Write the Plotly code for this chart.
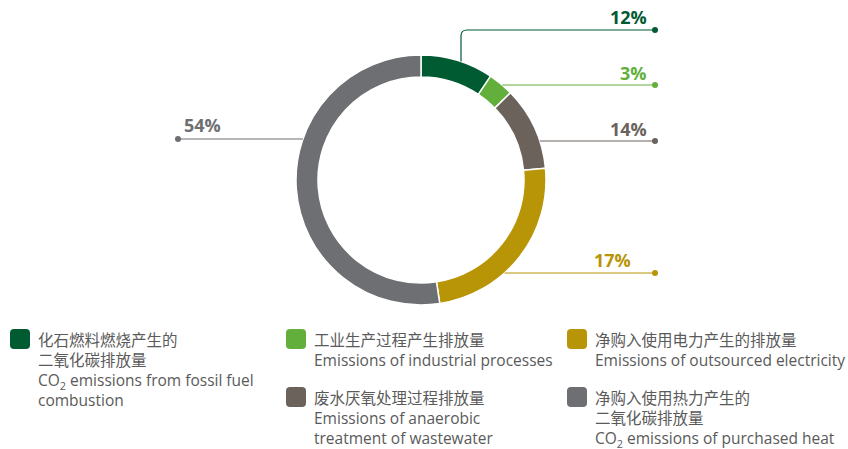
import math
import plotly.graph_objects as go

# ---------------- data ----------------
labels_cn = ["化石燃料燃烧产生的<br>二氧化碳排放量",
             "工业生产过程产生排放量",
             "废水厌氧处理过程排放量",
             "净购入使用电力产生的排放量",
             "净购入使用热力产生的<br>二氧化碳排放量"]
labels_en = ["CO<sub>2</sub> emissions from fossil fuel<br>combustion",
             "Emissions of industrial processes",
             "Emissions of anaerobic<br>treatment of wastewater",
             "Emissions of outsourced electricity",
             "CO<sub>2</sub> emissions of purchased heat"]
# printed percentage labels
pct_text = ["12%", "3%", "14%", "17%", "54%"]
# slice sizes as actually drawn in the picture (angular share, %)
slice_share = [9.4, 3.3, 10.8, 24.1, 52.4]
colors = ["#005A32", "#62AF3C", "#6C625C", "#B89407", "#6E6F73"]

# ---------------- layout constants (pixels) ----------------
W, H = 848, 449
CX, CY, R = 421, 180, 125
HOLE = 0.824
FONT = "Open Sans, Noto Sans CJK SC, sans-serif"
TEXT_COLOR = "#5a5a5a"

fig = go.Figure()

fig.add_trace(go.Pie(
    values=slice_share, labels=[l.replace("<br>", "") for l in labels_cn],
    text=pct_text,
    marker=dict(colors=colors, line=dict(color="white", width=1.5)),
    hole=HOLE, sort=False, direction="clockwise", rotation=0,
    textinfo="none", hoverinfo="label+text", showlegend=False,
    domain=dict(x=[(CX - R) / W, (CX + R) / W], y=[1 - (CY + R) / H, 1 - (CY - R) / H]),
))

shapes = []
annotations = []
dots_x, dots_y, dots_c = [], [], []

def ring_x(y, side):
    dy = y - CY
    return CX + side * math.sqrt(max(R * R - dy * dy, 0))

# label placement: line y, end x, text anchor x, text center y, side
place = [
    dict(ly=30, ex=655, tx=649, ty=17, side=1),
    dict(ly=85, ex=655, tx=649, ty=73, side=1),
    dict(ly=141, ex=655, tx=649, ty=129, side=1),
    dict(ly=273, ex=655, tx=633, ty=260, side=1),
    dict(ly=139, ex=178, tx=182, ty=125, side=-1),
]

for i, p in enumerate(place):
    col = colors[i]
    if i == 0:
        # vertical connector from the ring with a rounded corner
        vx = 461
        vy = CY - math.sqrt(R * R - (vx - CX) ** 2)
        rc = 6
        path = (f"M {vx},{vy} L {vx},{p['ly'] + rc} "
                f"Q {vx},{p['ly']} {vx + rc},{p['ly']} L {p['ex']},{p['ly']}")
        shapes.append(dict(type="path", xref="x", yref="y", path=path,
                           line=dict(color=col, width=1.2)))
    else:
        sx = ring_x(p["ly"], p["side"])
        shapes.append(dict(type="line", xref="x", yref="y", x0=sx, y0=p["ly"],
                           x1=p["ex"], y1=p["ly"], line=dict(color=col, width=1.2)))
    dots_x.append(p["ex"]); dots_y.append(p["ly"]); dots_c.append(col)
    annotations.append(dict(
        xref="x", yref="y", x=p["tx"], y=p["ty"], text=f"<b>{pct_text[i]}</b>",
        showarrow=False, xanchor="right" if p["side"] > 0 else "left", yanchor="middle",
        font=dict(family=FONT, size=18, color=col)))

fig.add_trace(go.Scatter(x=dots_x, y=dots_y, mode="markers",
                         marker=dict(color=dots_c, size=6), hoverinfo="skip",
                         showlegend=False))

# ---------------- legend ----------------
leg_pos = [(10, 329), (286, 329), (286, 387), (567, 329), (567, 387)]

def rounded_rect(x0, y0, x1, y1, r):
    return (f"M {x0 + r},{y0} L {x1 - r},{y0} Q {x1},{y0} {x1},{y0 + r} "
            f"L {x1},{y1 - r} Q {x1},{y1} {x1 - r},{y1} L {x0 + r},{y1} "
            f"Q {x0},{y1} {x0},{y1 - r} L {x0},{y0 + r} Q {x0},{y0} {x0 + r},{y0} Z")

for i, (lx, ly) in enumerate(leg_pos):
    shapes.append(dict(type="path", xref="x", yref="y",
                       path=rounded_rect(lx, ly, lx + 20, ly + 20, 4),
                       fillcolor=colors[i], line=dict(width=0)))
    annotations.append(dict(
        xref="x", yref="y", x=lx + 26, y=ly - 2, xanchor="left", yanchor="top",
        align="left", showarrow=False,
        text=labels_cn[i] + "<br>" + labels_en[i],
        font=dict(family=FONT, size=15.5, color=TEXT_COLOR)))

fig.update_layout(
    width=W, height=H, margin=dict(l=0, r=0, t=0, b=0),
    paper_bgcolor="white", plot_bgcolor="rgba(0,0,0,0)",
    xaxis=dict(range=[0, W], visible=False, domain=[0, 1], fixedrange=True),
    yaxis=dict(range=[H, 0], visible=False, domain=[0, 1], fixedrange=True),
    shapes=shapes, annotations=annotations,
)

fig.write_html("out.html", config={"displayModeBar": False},
               post_script="document.body.style.margin='0';document.body.style.overflow='hidden';")
